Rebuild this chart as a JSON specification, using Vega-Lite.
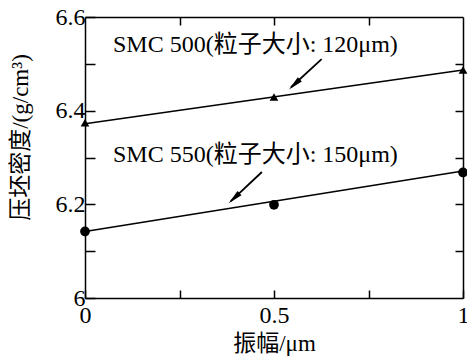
{
  "$schema": "https://vega.github.io/schema/vega-lite/v6.json",
  "width": 378,
  "height": 281,
  "autosize": "none",
  "padding": {"left": 85, "top": 17, "right": 4, "bottom": 62},
  "config": {
    "view": {"stroke": null},
    "font": "Liberation Serif, Noto Sans CJK SC",
    "axis": {
      "domainColor": "black",
      "domainWidth": 1.5,
      "tickColor": "black",
      "tickWidth": 1.5,
      "grid": false,
      "labelColor": "black",
      "titleColor": "black",
      "labelFont": "Liberation Serif",
      "labelFontSize": 24,
      "titleFont": "Liberation Serif, Noto Sans CJK SC",
      "titleFontSize": 23,
      "titleFontWeight": "normal"
    }
  },
  "datasets": {
    "points": [
      {"x": 0, "y": 6.374, "s": "SMC 500"},
      {"x": 0.5, "y": 6.429, "s": "SMC 500"},
      {"x": 1, "y": 6.487, "s": "SMC 500"},
      {"x": 0, "y": 6.142, "s": "SMC 550"},
      {"x": 0.5, "y": 6.199, "s": "SMC 550"},
      {"x": 1, "y": 6.268, "s": "SMC 550"}
    ],
    "fits": [
      {"x": 0, "y": 6.372, "s": "SMC 500"},
      {"x": 1, "y": 6.487, "s": "SMC 500"},
      {"x": 0, "y": 6.142, "s": "SMC 550"},
      {"x": 1, "y": 6.271, "s": "SMC 550"}
    ],
    "labels": [
      {"x": 0.074, "y": 6.525, "t": "SMC 500(粒子大小: 120μm)"},
      {"x": 0.074, "y": 6.29, "t": "SMC 550(粒子大小: 150μm)"}
    ],
    "arrows": [
      {"x": 0.626, "y": 6.51, "x2": 0.545, "y2": 6.45, "hx": 0.554, "hy": 6.4559},
      {"x": 0.468, "y": 6.269, "x2": 0.386, "y2": 6.207, "hx": 0.3944, "hy": 6.2131}
    ]
  },
  "layer": [
    {
      "data": {"name": "fits"},
      "mark": {"type": "line", "color": "black", "strokeWidth": 1.5},
      "encoding": {
        "x": {
          "field": "x", "type": "quantitative",
          "scale": {"domain": [0, 1], "nice": false},
          "axis": {
            "orient": "bottom",
            "values": [0, 0.25, 0.5, 0.75, 1],
            "labelExpr": "round(datum.value*4) % 2 == 0 ? format(datum.value, '~g') : ''",
            "tickSize": -8,
            "labelPadding": 13,
            "labelFlush": false,
            "title": "振幅/μm",
            "titleBaseline": "middle",
            "titleY": 45
          }
        },
        "y": {
          "field": "y", "type": "quantitative",
          "scale": {"domain": [6, 6.6], "nice": false, "zero": false},
          "axis": {
            "orient": "left",
            "values": [6, 6.1, 6.2, 6.3, 6.4, 6.5, 6.6],
            "labelExpr": "round(datum.value*10) % 2 == 0 ? format(datum.value, '~g') : ''",
            "tickSize": -10,
            "labelPadding": 10,
            "labelFlush": false,
            "title": "压坯密度/(g/cm³)",
            "titleBaseline": "middle",
            "titleX": -65,
            "titleY": 120
          }
        },
        "detail": {"field": "s"}
      }
    },
    {
      "data": {"name": "points"},
      "mark": {"type": "point", "filled": true, "color": "black", "opacity": 1},
      "encoding": {
        "x": {
          "field": "x", "type": "quantitative",
          "scale": {"domain": [0, 1], "nice": false},
          "axis": {
            "orient": "top",
            "values": [0.25, 0.5, 0.75],
            "labels": false,
            "tickSize": -8,
            "title": null
          }
        },
        "y": {
          "field": "y", "type": "quantitative",
          "scale": {"domain": [6, 6.6], "nice": false, "zero": false},
          "axis": {
            "orient": "right",
            "values": [6.1, 6.2, 6.3, 6.4, 6.5],
            "labels": false,
            "tickSize": -8,
            "title": null
          }
        },
        "shape": {
          "field": "s", "type": "nominal",
          "scale": {"domain": ["SMC 500", "SMC 550"], "range": ["triangle-up", "circle"]},
          "legend": null
        },
        "size": {
          "field": "s", "type": "nominal",
          "scale": {"domain": ["SMC 500", "SMC 550"], "range": [75, 95]},
          "legend": null
        }
      }
    },
    {
      "data": {"name": "arrows"},
      "mark": {"type": "rule", "color": "black", "strokeWidth": 1.8},
      "encoding": {
        "x": {"field": "x", "type": "quantitative", "axis": null},
        "y": {"field": "y", "type": "quantitative", "axis": null},
        "x2": {"field": "x2"},
        "y2": {"field": "y2"}
      }
    },
    {
      "data": {"name": "arrows"},
      "mark": {"type": "point", "filled": true, "color": "black", "opacity": 1, "shape": "M0,-1L0.4,1L-0.4,1Z", "size": 220, "angle": 227},
      "encoding": {
        "x": {"field": "hx", "type": "quantitative", "axis": null},
        "y": {"field": "hy", "type": "quantitative", "axis": null}
      }
    },
    {
      "data": {"name": "labels"},
      "mark": {"type": "text", "align": "left", "baseline": "alphabetic", "fontSize": 24, "font": "Liberation Serif, Noto Sans CJK SC", "color": "black"},
      "encoding": {
        "x": {"field": "x", "type": "quantitative", "axis": null},
        "y": {"field": "y", "type": "quantitative", "axis": null},
        "text": {"field": "t"}
      }
    }
  ],
  "resolve": {"axis": {"x": "independent", "y": "independent"}}
}
